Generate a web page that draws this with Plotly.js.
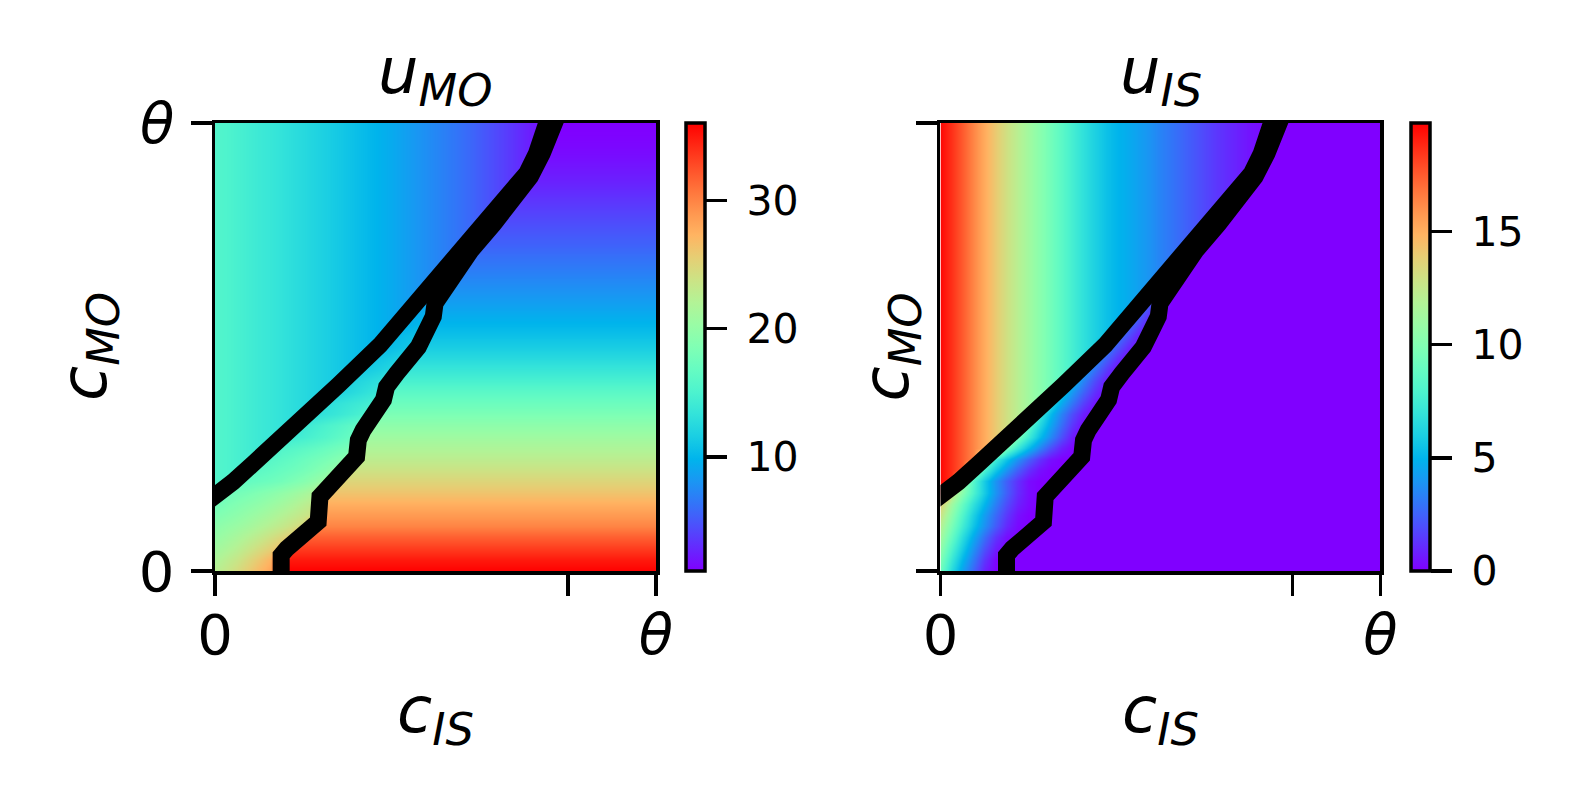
<!DOCTYPE html>
<html>
<head>
<meta charset="utf-8">
<script src="https://cdn.plot.ly/plotly-3.0.1.min.js"></script>
<style>
  html, body { margin: 0; padding: 0; background: white; }
  #chart { width: 1580px; height: 807px; }
</style>
</head>
<body>
<div id="chart"></div>
<script>
var gridX = [0, 0.025, 0.05, 0.075, 0.1, 0.125, 0.15, 0.175, 0.2, 0.225, 0.25, 0.275, 0.3, 0.325, 0.35, 0.375, 0.4, 0.425, 0.45, 0.475, 0.5,
             0.525, 0.55, 0.575, 0.6, 0.625, 0.65, 0.675, 0.7, 0.725, 0.75, 0.775, 0.8, 0.825, 0.85, 0.875, 0.9, 0.925, 0.95, 0.975, 1];
var gridY = [0, 0.025, 0.05, 0.075, 0.1, 0.125, 0.15, 0.175, 0.2, 0.225, 0.25, 0.275, 0.3, 0.325, 0.35, 0.375, 0.4, 0.425, 0.45, 0.475, 0.5,
             0.525, 0.55, 0.575, 0.6, 0.625, 0.65, 0.675, 0.7, 0.725, 0.75, 0.775, 0.8, 0.825, 0.85, 0.875, 0.9, 0.925, 0.95, 0.975, 1];

// boundary lines (black contours), same in both panels
var lineA_x = [-0.02, 0, 0.041, 0.087, 0.125, 0.163, 0.223, 0.28, 0.374, 0.45, 0.525, 0.586, 0.624, 0.669, 0.707, 0.729, 0.752, 0.759];
var lineA_y = [0.153, 0.165, 0.199, 0.24, 0.272, 0.307, 0.356, 0.415, 0.504, 0.59, 0.672, 0.739, 0.783, 0.835, 0.888, 0.932, 1.0, 1.02];
var lineB_x = [0.15, 0.15, 0.163, 0.234, 0.238, 0.28, 0.321, 0.325, 0.336, 0.382, 0.389, 0.412, 0.461, 0.48, 0.495, 0.499, 0.518, 0.55, 0.58, 0.632, 0.678, 0.715, 0.742, 0.77, 0.778];
var lineB_y = [-0.02, 0.035, 0.05, 0.11, 0.166, 0.21, 0.255, 0.292, 0.315, 0.382, 0.411, 0.441, 0.5, 0.538, 0.568, 0.598, 0.627, 0.672, 0.715, 0.775, 0.83, 0.88, 0.932, 1.0, 1.02];

// u_MO: above line A it changes with c_IS (by column), right of line B with c_MO (by row)
var uMO_top = [15.5, 15.2, 14.8, 14.4, 14.0, 13.7, 13.3, 12.9, 12.5, 12.1, 11.7, 11.3, 10.9, 10.5, 10.1, 9.7, 9.3, 8.8, 8.3, 7.8, 7.3,
               6.8, 6.3, 5.8, 5.2, 4.6, 4.0, 3.4, 2.7, 2.1, 1.5, 1.2, 1.1, 1.1, 1.1, 1.1, 1.1, 1.1, 1.1, 1.1, 1.1];
var uMO_low = [36.0, 35.0, 33.5, 31.8, 30.0, 28.8, 27.6, 26.3, 25.0, 23.9, 22.8, 21.8, 20.8, 19.6, 18.4, 17.3, 16.2, 14.9, 13.7, 12.6, 11.6,
               10.8, 10.0, 9.3, 8.6, 8.0, 7.4, 6.8, 6.2, 5.6, 5.1, 4.6, 4.1, 3.5, 3.0, 2.5, 2.1, 1.7, 1.4, 1.2, 1.1];
// between the two lines, row by row from the bottom, cells left to right
var uMO_band = [
    [22.5, 23.4, 24.5, 25.7, 27.0, 28.2],
    [21.8, 22.7, 23.6, 24.8, 26.0, 27.3],
    [21.0, 21.7, 22.5, 23.5, 24.5, 25.5, 26.5],
    [20.2, 20.8, 21.5, 22.3, 23.1, 24.0, 24.9, 25.8],
    [19.5, 20.0, 20.5, 21.1, 21.8, 22.5, 23.2, 24.0, 24.8],
    [18.6, 19.1, 19.6, 20.2, 20.8, 21.4, 22.1, 22.8, 23.5, 24.2],
    [17.8, 18.3, 18.8, 19.3, 19.8, 20.4, 21.0, 21.7, 22.5, 23.2],
    [17.5, 17.9, 18.3, 18.8, 19.3, 19.9, 20.5, 21.2, 22.0],
    [16.6, 16.8, 17.1, 17.4, 17.8, 18.4, 19.0, 19.8, 20.6],
    [16.0, 16.3, 16.6, 17.0, 17.4, 17.9, 18.5, 19.2, 20.0],
    [15.5, 15.9, 16.3, 16.7, 17.2, 17.7, 18.2, 18.8, 19.4],
    [15.5, 15.8, 16.2, 16.6, 17.1, 17.6, 18.1],
    [14.3, 14.6, 15.1, 15.6, 16.2, 16.8, 17.4],
    [14.0, 14.5, 15.0, 15.5, 16.1, 16.7],
    [13.0, 13.4, 13.8, 14.3, 14.8, 15.4],
    [12.9, 13.3, 13.7, 14.1, 14.5, 15.0],
    [12.0, 12.4, 12.9, 13.4, 13.9],
    [11.9, 12.3, 12.7, 13.1],
    [11.2, 11.5, 11.9, 12.3],
    [10.9, 11.2, 11.5, 11.9],
    [10.3, 10.6, 10.9, 11.2],
    [10.2, 10.5, 10.8],
    [9.7, 9.9, 10.2],
    [9.3, 9.5],
    [8.8, 8.9]
];

// u_IS
var uIS_top = [19.6, 18.6, 17.5, 16.3, 15.1, 14.0, 13.0, 12.1, 11.2, 10.3, 9.4, 8.5, 7.6, 6.8, 6.1, 5.5, 5.0, 4.7, 4.3, 3.9, 3.4,
               3.0, 2.6, 2.2, 1.8, 1.4, 1.1, 0.8, 0.5, 0.3, 0.15, 0.05, 0, 0, 0, 0, 0, 0, 0, 0, 0];
var uIS_low = [0, 0, 0, 0, 0, 0, 0, 0, 0, 0, 0, 0, 0, 0, 0, 0, 0, 0, 0, 0, 0,
               0, 0, 0, 0, 0, 0, 0, 0, 0, 0, 0, 0, 0, 0, 0, 0, 0, 0, 0, 0];
var uIS_band = [
    [9.2, 6.5, 4.3, 2.5, 0.8, 0],
    [9.8, 7.2, 5.0, 3.1, 1.3, 0.1],
    [10.5, 8.0, 5.8, 3.8, 2.0, 0.7, 0],
    [11.3, 8.9, 6.6, 4.6, 2.8, 1.3, 0.3, 0],
    [12.0, 9.7, 7.5, 5.5, 3.8, 2.3, 1.0, 0.2, 0],
    [12.8, 10.4, 8.1, 6.0, 4.2, 2.7, 1.4, 0.4, 0, 0],
    [13.7, 11.2, 8.9, 6.8, 5.0, 3.3, 1.9, 0.8, 0.2, 0],
    [12.8, 10.2, 7.9, 5.8, 3.9, 2.4, 1.1, 0.3, 0],
    [11.0, 8.2, 5.8, 3.9, 2.4, 1.2, 0.3, 0, 0],
    [10.5, 7.9, 5.7, 3.9, 2.4, 1.2, 0.4, 0, 0],
    [9.6, 7.5, 5.6, 3.9, 2.5, 1.3, 0.4, 0, 0],
    [9.4, 7.2, 5.2, 3.5, 2.0, 0.8, 0.1],
    [9.6, 7.4, 5.3, 3.6, 2.0, 0.6, 0],
    [8.6, 6.4, 4.5, 2.8, 1.3, 0.2],
    [7.3, 5.2, 3.4, 1.9, 0.7, 0.1],
    [6.6, 4.6, 3.0, 1.6, 0.5, 0],
    [5.8, 4.0, 2.5, 1.2, 0.3],
    [5.1, 3.4, 1.9, 0.7],
    [4.5, 3.0, 1.6, 0.4],
    [4.0, 2.6, 1.3, 0.3],
    [3.6, 2.3, 1.1, 0.2],
    [3.2, 2.0, 0.8],
    [2.9, 1.7, 0.6],
    [2.6, 1.4],
    [2.3, 1.1]
];

// matplotlib "rainbow"
var rainbow = [
    [0, 'rgb(128,0,255)'], [0.05, 'rgb(102,40,254)'], [0.1, 'rgb(77,79,252)'],
    [0.15, 'rgb(51,116,248)'], [0.2, 'rgb(26,150,243)'], [0.25, 'rgb(0,180,236)'],
    [0.3, 'rgb(26,206,227)'], [0.35, 'rgb(51,227,218)'], [0.4, 'rgb(77,243,206)'],
    [0.45, 'rgb(102,252,194)'], [0.5, 'rgb(128,255,180)'], [0.55, 'rgb(153,252,165)'],
    [0.6, 'rgb(179,243,150)'], [0.65, 'rgb(204,227,133)'], [0.7, 'rgb(230,206,116)'],
    [0.75, 'rgb(255,180,98)'], [0.8, 'rgb(255,150,79)'], [0.85, 'rgb(255,116,59)'],
    [0.9, 'rgb(255,79,40)'], [0.95, 'rgb(255,40,20)'], [1, 'rgb(255,0,0)']
];

// position on a boundary line, used only to tell the three regions apart
function along(xs, ys, v) {
    if (v <= xs[0]) return ys[0];
    for (var k = 1; k < xs.length; k++) {
        if (v <= xs[k]) {
            var f = (v - xs[k - 1]) / (xs[k] - xs[k - 1] || 1);
            return ys[k - 1] + f * (ys[k] - ys[k - 1]);
        }
    }
    return Infinity;
}

function buildZ(top, low, band) {
    return gridY.map(function(y, i) {
        var k = 0;
        return gridX.map(function(x, j) {
            if (y > along(lineA_x, lineA_y, x)) return top[j];
            if (x >= along(lineB_y, lineB_x, y)) return low[i];
            var row = band[i] || [];
            return k < row.length ? row[k++] : low[i];
        });
    });
}

function cbar(x, vals) {
    return {
        x: x, xanchor: 'left', xpad: 0,
        y: 0.29244, yanchor: 'bottom', ypad: 0,
        len: 0.5551, lenmode: 'fraction',
        thickness: 19, thicknessmode: 'pixels',
        outlinewidth: 3.5, outlinecolor: 'black',
        ticks: 'outside', ticklen: 21, tickwidth: 3.5, tickcolor: 'black',
        tickvals: vals, tickfont: { size: 41 }
    };
}

var heatMO = {
    type: 'heatmap', x: gridX, y: gridY, z: buildZ(uMO_top, uMO_low, uMO_band),
    colorscale: rainbow, zmin: 1.1, zmax: 36.05, zsmooth: 'best',
    xaxis: 'x', yaxis: 'y', hoverinfo: 'skip',
    colorbar: cbar(686 / 1580, [10, 20, 30])
};
var heatIS = {
    type: 'heatmap', x: gridX, y: gridY, z: buildZ(uIS_top, uIS_low, uIS_band),
    colorscale: rainbow, zmin: 0, zmax: 19.8, zsmooth: 'best',
    xaxis: 'x2', yaxis: 'y2', hoverinfo: 'skip',
    colorbar: cbar(1411 / 1580, [0, 5, 10, 15])
};

function contour(xs, ys, xa, ya) {
    return {
        type: 'scatter', mode: 'lines', x: xs, y: ys,
        xaxis: xa, yaxis: ya, hoverinfo: 'skip',
        line: { color: 'black', width: 17 }
    };
}

var axisBase = {
    range: [0, 1], showgrid: false, zeroline: false,
    showline: true, mirror: true, linecolor: 'black', linewidth: 3.5,
    ticks: 'outside', ticklen: 21, tickwidth: 3.5, tickcolor: 'black',
    tickfont: { size: 56 }, fixedrange: true
};
var xTicks = { tickmode: 'array', tickvals: [0, 0.8, 1], ticktext: ['0', '', '<i>θ</i>'], ticklabelstandoff: -9 };
var yTicks = { tickmode: 'array', tickvals: [0, 1], ticktext: ['0', '<i>θ</i>'], ticklabelstandoff: 5 };

function ann(text, x, y, angle) {
    return {
        text: text, x: x, y: y, xref: 'paper', yref: 'paper',
        xanchor: 'center', yanchor: 'middle', showarrow: false,
        textangle: angle || 0, font: { size: 64 }
    };
}

var layout = {
    width: 1580, height: 807,
    margin: { l: 0, r: 0, t: 0, b: 0 },
    paper_bgcolor: 'white', plot_bgcolor: 'white',
    font: { family: 'DejaVu Sans', color: 'black' },
    showlegend: false,
    xaxis: Object.assign({}, axisBase, xTicks, { domain: [0.13608, 0.41519], anchor: 'y' }),
    yaxis: Object.assign({}, axisBase, yTicks, { domain: [0.29244, 0.84758], anchor: 'x' }),
    xaxis2: Object.assign({}, axisBase, xTicks, { domain: [0.59525, 0.87373], anchor: 'y2' }),
    yaxis2: Object.assign({}, axisBase, yTicks, { domain: [0.29244, 0.84758], anchor: 'x2', showticklabels: false }),
    annotations: [
        ann('<i>u</i><sub><i>MO</i></sub>', 0.2756, 0.906),
        ann('<i>u</i><sub><i>IS</i></sub>', 0.7345, 0.906),
        ann('<i>c</i><sub><i>IS</i></sub>', 0.2756, 0.1141),
        ann('<i>c</i><sub><i>IS</i></sub>', 0.7345, 0.1141),
        ann('<i>c</i><sub><i>MO</i></sub>', 0.0557, 0.57, -90),
        ann('<i>c</i><sub><i>MO</i></sub>', 0.5630, 0.57, -90)
    ]
};

Plotly.newPlot('chart', [
    heatMO, heatIS,
    contour(lineA_x, lineA_y, 'x', 'y'), contour(lineB_x, lineB_y, 'x', 'y'),
    contour(lineA_x, lineA_y, 'x2', 'y2'), contour(lineB_x, lineB_y, 'x2', 'y2')
], layout, { displayModeBar: false, staticPlot: true }).then(function(gd) {
    // matplotlib leaves a wider gap between colorbar ticks and their labels
    gd.querySelectorAll('.colorbar .cbaxis text').forEach(function(t) {
        t.setAttribute('dx', 11);
    });
});
</script>
</body>
</html>
